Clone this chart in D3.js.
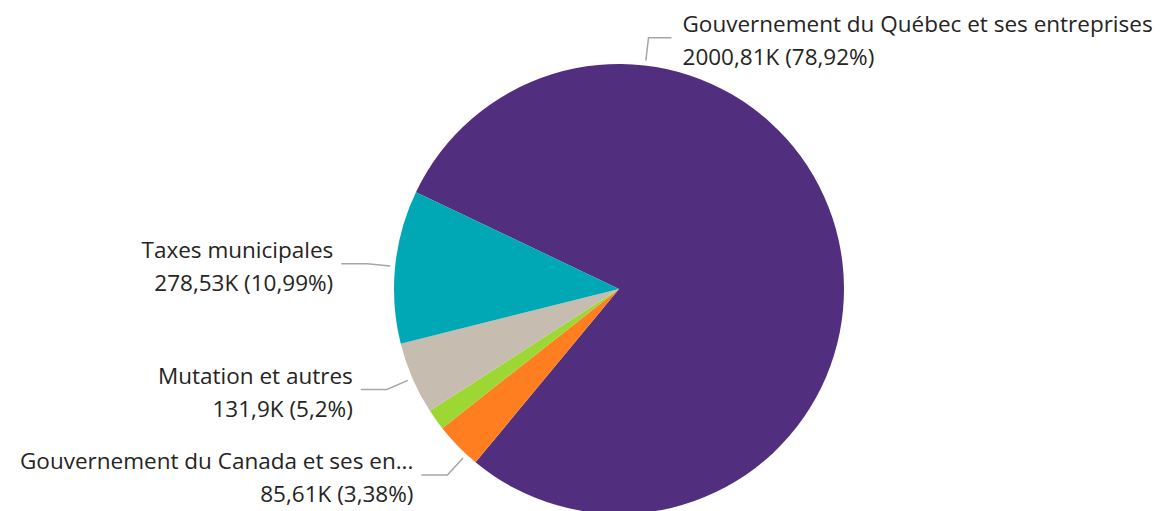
<!DOCTYPE html>
<html>
<head>
<meta charset="utf-8">
<script src="https://cdn.jsdelivr.net/npm/d3@7"></script>
<style>
  body { margin: 0; background: #fff; }
  svg { display: block; }
</style>
</head>
<body>
<svg id="chart"></svg>
<script>
// data (values in thousands)
var categories = [
  "Gouvernement du Québec et ses entreprises",
  "Gouvernement du Canada et ses entreprises",
  "Autres",
  "Mutation et autres",
  "Taxes municipales"
];
var labels = [
  "Gouvernement du Québec et ses entreprises",
  "Gouvernement du Canada et ses en...",
  null,
  "Mutation et autres",
  "Taxes municipales"
];
var values = [2000.81, 85.61, 38.35, 131.9, 278.53];
var colors = ["#512F7E", "#FF7F20", "#9DD733", "#C6BDB0", "#00A7B5"];

// layout
var width = 1162, height = 511;
var cx = 619, cy = 289, radius = 225;
var startDeg = -64.5;
// Power BI nudged some labels off the slice middle
var labelAngleOverride = {0: 6.7, 1: 222.7};

var svg = d3.select("#chart")
    .attr("width", width)
    .attr("height", height);

var g = svg.append("g")
    .attr("transform", "translate(" + cx + "," + cy + ")");

var total = d3.sum(values);
var rows = categories.map(function(c, i) {
  return {name: c, label: labels[i], value: values[i], color: colors[i], i: i};
});

var pie = d3.pie()
    .sort(null)
    .value(function(d) { return d.value; })
    .startAngle(startDeg * Math.PI / 180)
    .endAngle(startDeg * Math.PI / 180 + 2 * Math.PI);

var arc = d3.arc().innerRadius(0).outerRadius(radius);

var arcs = pie(rows);

g.selectAll("path.slice")
  .data(arcs)
  .enter()
  .append("path")
    .attr("class", "slice")
    .attr("d", arc)
    .attr("fill", function(d) { return d.data.color; });

// french number formatting
function fr(v) {
  return String(+v.toFixed(2)).replace(".", ",");
}

function point(angle, r) {
  return [Math.sin(angle) * r, -Math.cos(angle) * r];
}

var labelled = arcs.filter(function(d) { return d.data.label; });

labelled.forEach(function(d) {
  var a = labelAngleOverride[d.data.i] != null
      ? labelAngleOverride[d.data.i] * Math.PI / 180
      : (d.startAngle + d.endAngle) / 2;
  var right = Math.sin(a) > 0;
  var p1 = point(a, radius + 5);
  var p2 = point(a, radius + 28);
  var p3 = [p2[0] + (right ? 23 : -26), p2[1]];

  g.append("polyline")
    .attr("points", [p1, p2, p3].map(function(p) { return p.join(","); }).join(" "))
    .attr("fill", "none")
    .attr("stroke", "#A6A6A6")
    .attr("stroke-width", 1.5);

  var tx = p3[0] + (right ? 11 : -8);
  var t = g.append("text")
    .attr("text-anchor", right ? "start" : "end")
    .style("font-family", "'Open Sans', 'Noto Sans', sans-serif")
    .style("font-size", "22.5px")
    .attr("fill", "#252423");
  t.append("tspan")
    .attr("x", tx)
    .attr("y", p2[1] - 6)
    .text(d.data.label);
  t.append("tspan")
    .attr("x", tx)
    .attr("y", p2[1] + 27)
    .text(fr(d.data.value) + "K (" + fr(d.data.value / total * 100) + "%)");
});
</script>
</body>
</html>
